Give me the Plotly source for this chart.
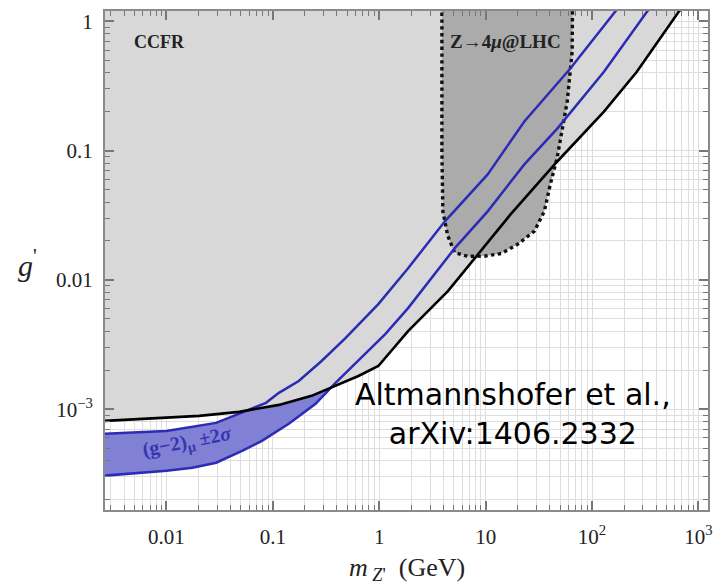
import plotly.graph_objects as go

# ---- data ----
# combined bound (black curve): m_Z' [GeV], g'
mass_black = [0.0025, 0.01, 0.0203, 0.0481, 0.114, 0.231, 0.414, 0.637, 0.98, 1.294,
              1.866, 4.416, 8.41, 17.14, 47.1, 129.4, 263.6, 650, 1000]
g_black = [8.1e-4, 8.57e-4, 8.87e-4, 9.53e-4, 1.079e-3, 1.268e-3, 1.567e-3, 1.807e-3,
           2.158e-3, 2.818e-3, 4.02e-3, 8.18e-3, 0.0158, 0.0321, 0.0824, 0.2004, 0.407,
           1.18, 1.82]

# (g-2)_mu +2 sigma boundary (upper blue)
mass_upper = [0.0025, 0.01, 0.0293, 0.056, 0.0861, 0.114, 0.175, 0.287, 0.481, 0.98,
              1.866, 4.14, 10.45, 23.1, 62.2, 164, 250]
g_upper = [6.45e-4, 6.79e-4, 7.83e-4, 9.7e-4, 1.119e-3, 1.337e-3, 1.652e-3, 2.36e-3,
           3.55e-3, 6.49e-3, 0.0123, 0.0284, 0.0655, 0.168, 0.43, 1.18, 1.8]

# (g-2)_mu -2 sigma boundary (lower blue)
mass_lower = [0.0025, 0.01, 0.0175, 0.0293, 0.0513, 0.0789, 0.141, 0.252, 0.388, 0.679,
              1.138, 1.866, 5.13, 10.45, 23.1, 47.1, 129.4, 327, 500]
g_lower = [3.05e-4, 3.34e-4, 3.52e-4, 3.85e-4, 4.76e-4, 5.69e-4, 7.71e-4, 1.099e-3,
           1.596e-3, 2.49e-3, 3.81e-3, 6.05e-3, 0.0176, 0.0339, 0.0782, 0.148, 0.407,
           1.18, 1.8]

# Z -> 4 mu @ LHC excluded region (dotted outline)
mass_lhc = [3.88, 3.88, 3.96, 4.4, 5.1, 6.8, 10.0, 14.0, 19.9, 28.7, 35.6, 40.5, 47.0,
            52.4, 58.4, 65.0, 66.4]
g_lhc = [5.0, 0.098, 0.034, 0.022, 0.0163, 0.0152, 0.0153, 0.016, 0.0188, 0.0238,
         0.0339, 0.0547, 0.088, 0.148, 0.239, 0.58, 5.0]

x_tickvals = [0.01, 0.1, 1, 10, 100, 1000]
x_ticktext = ["0.01", "0.1", "1", "10", "10<sup>2</sup>", "10<sup>3</sup>"]
y_tickvals = [1e-3, 0.01, 0.1, 1]
y_ticktext = ["10<sup>\u22123</sup>", "0.01", "0.1", "1"]

LIGHT_GRAY = "#d8d8d8"
DARK_GRAY = "#ababab"
BAND_FILL = "#8080d4"
BLUE_LINE = "#2b2bb5"
SERIF = "Liberation Serif, Times New Roman, serif"

fig = go.Figure()

# (g-2) band fill
fig.add_trace(go.Scatter(x=mass_lower, y=g_lower, mode="lines", line=dict(width=0),
                         showlegend=False, hoverinfo="skip"))
fig.add_trace(go.Scatter(x=mass_upper, y=g_upper, mode="lines", line=dict(width=0),
                         fill="tonexty", fillcolor=BAND_FILL, showlegend=False,
                         hoverinfo="skip"))

# CCFR / excluded region above black curve
top_val = 10.0
fig.add_trace(go.Scatter(x=mass_black + [mass_black[-1], mass_black[0]],
                         y=g_black + [top_val, top_val],
                         mode="lines", line=dict(width=0), fill="toself",
                         fillcolor=LIGHT_GRAY, showlegend=False, hoverinfo="skip"))

# LHC region
fig.add_trace(go.Scatter(x=mass_lhc, y=g_lhc, mode="lines", fill="toself",
                         fillcolor=DARK_GRAY,
                         line=dict(color="#111111", width=3.4, dash="dot"),
                         showlegend=False, hoverinfo="skip"))

# blue boundary lines
fig.add_trace(go.Scatter(x=mass_upper, y=g_upper, mode="lines",
                         line=dict(color=BLUE_LINE, width=2.5), showlegend=False))
fig.add_trace(go.Scatter(x=mass_lower, y=g_lower, mode="lines",
                         line=dict(color=BLUE_LINE, width=2.5), showlegend=False))
# black line
fig.add_trace(go.Scatter(x=mass_black, y=g_black, mode="lines",
                         line=dict(color="#000000", width=2.6), showlegend=False))

axis_common = dict(
    type="log", showline=True, linecolor="#8a8a8a", linewidth=2, mirror="allticks",
    ticks="inside", ticklen=9, tickwidth=1.5, tickcolor="#777777",
    showgrid=True, gridcolor="#dedede", gridwidth=1, zeroline=False,
    tickfont=dict(family=SERIF, size=21, color="#222222"),
    minor=dict(ticks="inside", ticklen=5, tickwidth=1.2, tickcolor="#777777",
               dtick="D1", showgrid=True, gridcolor="#dedede", gridwidth=1),
)

fig.update_xaxes(range=[-2.578, 3.09], tickmode="array", tickvals=x_tickvals,
                 ticktext=x_ticktext, ticklabelstandoff=7, **axis_common)
fig.update_yaxes(range=[-3.78, 0.08], tickmode="array", tickvals=y_tickvals,
                 ticktext=y_ticktext, ticklabelstandoff=6, **axis_common)

common_anno = dict(xref="paper", yref="paper", showarrow=False,
                   xanchor="center", yanchor="middle")
annotations = [
    dict(text="<b>CCFR</b>", x=0.091, y=0.938,
         font=dict(family=SERIF, size=18, color="#222222"), **common_anno),
    dict(text="<b>Z\u21924<i>\u03bc</i>@LHC</b>", x=0.664, y=0.938,
         font=dict(family=SERIF, size=19, color="#222222"), **common_anno),
    dict(text="<b>(g\u22122)<sub>\u03bc</sub> \u00b12<i>\u03c3</i></b>", x=0.137,
         y=0.136, textangle=-11,
         font=dict(family=SERIF, size=20, color="#3535b0"), **common_anno),
    dict(text="Altmannshofer et al.,<br>arXiv:1406.2332", x=0.677, y=0.193,
         font=dict(family="DejaVu Sans, sans-serif", size=30, color="#000000"),
         **common_anno),
    dict(text="<i>m</i><sub> <i>Z</i>'</sub>  (GeV)", x=0.5, y=-0.118,
         font=dict(family=SERIF, size=26, color="#222222"), **common_anno),
    dict(text="<i>g</i><sup>'</sup>", x=-0.1285, y=0.495,
         font=dict(family=SERIF, size=30, color="#222222"), **common_anno),
]

fig.update_layout(
    width=722, height=584,
    margin=dict(l=105, r=10, t=9, b=74),
    paper_bgcolor="white", plot_bgcolor="white",
    annotations=annotations,
    showlegend=False,
)

fig.write_html("out.html")
